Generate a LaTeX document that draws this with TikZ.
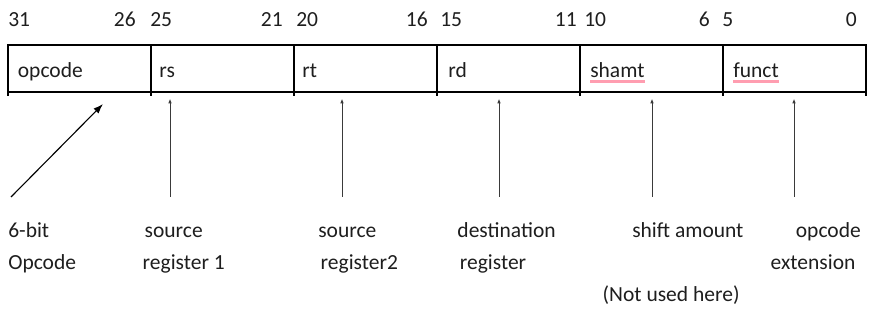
\documentclass[tikz,border=0pt]{standalone}
\usepackage{fontspec}
\setmainfont{Carlito}
\usepackage{xcolor}
\definecolor{fieldText}{HTML}{1E1E1E}
\definecolor{arrowGray}{HTML}{3A3A3A}
\definecolor{spellPink}{HTML}{FF9DB0}
\usetikzlibrary{arrows.meta}

\begin{document}
\begin{tikzpicture}[
  every node/.style={inner sep=0pt, text=fieldText, font=\fontsize{15.3}{18}\selectfont},
  cellLine/.style={draw=black, line width=0.95pt},
  bitWest/.style={anchor=base west},
  bitEast/.style={anchor=base east},
  spellMark/.style={draw=spellPink, line width=1.9pt},
  ptrArrow/.style={draw=arrowGray, line width=0.7pt, -{Latex[length=3.5pt,width=2.6pt]}},
  bigArrow/.style={draw=black, line width=0.8pt, -{Latex[length=7pt,width=5pt]}}
]
  \useasboundingbox (0cm,0cm) rectangle (22.35cm,-8.15cm);
  % bit positions
  \node[bitWest] (b31) at (0.2cm,-0.6625cm) {31};
  \node[bitEast] (b26) at (3.4cm,-0.6625cm) {26};
  \node[bitWest] (b25) at (3.75cm,-0.6625cm) {25};
  \node[bitEast] (b21) at (7.075cm,-0.6625cm) {21};
  \node[bitWest] (b20) at (7.4cm,-0.6625cm) {20};
  \node[bitEast] (b16) at (10.7cm,-0.6625cm) {16};
  \node[bitWest] (b15) at (11.0cm,-0.6625cm) {15};
  \node[bitEast] (b11) at (14.425cm,-0.6625cm) {11};
  \node[bitWest] (b10) at (14.6cm,-0.6625cm) {10};
  \node[bitEast] (b6) at (17.75cm,-0.6625cm) {6};
  \node[bitWest] (b5) at (18.05cm,-0.6625cm) {5};
  \node[bitEast] (b0) at (21.425cm,-0.6625cm) {0};
  % instruction word
  \draw[cellLine] (0.2cm,-1.125cm) rectangle (21.65cm,-2.3cm);
  \draw[cellLine] (0.2cm,-2.3cm) -- (0.2cm,-2.4cm);
  \draw[cellLine] (3.775cm,-1.125cm) -- (3.775cm,-2.4cm);
  \draw[cellLine] (7.35cm,-1.125cm) -- (7.35cm,-2.4cm);
  \draw[cellLine] (10.925cm,-1.125cm) -- (10.925cm,-2.4cm);
  \draw[cellLine] (14.5cm,-1.125cm) -- (14.5cm,-2.4cm);
  \draw[cellLine] (18.075cm,-1.125cm) -- (18.075cm,-2.4cm);
  \draw[cellLine] (21.65cm,-2.3cm) -- (21.65cm,-2.4cm);
  \node[bitWest] (fOpcode) at (0.44cm,-1.94cm) {opcode};
  \node[bitWest] (fRs) at (3.98cm,-1.94cm) {rs};
  \node[bitWest] (fRt) at (7.55cm,-1.94cm) {rt};
  \node[bitWest] (fRd) at (11.2cm,-1.94cm) {rd};
  \node[bitWest] (fShamt) at (14.75cm,-1.94cm) {shamt};
  \node[bitWest] (fFunct) at (18.325cm,-1.94cm) {funct};
  \draw[spellMark] (14.75cm,-2.04cm) -- (16.125cm,-2.04cm);
  \draw[spellMark] (18.325cm,-2.04cm) -- (19.475cm,-2.04cm);
  % pointers
  \coordinate (opTail) at (0.275cm,-4.925cm);
  \coordinate (opHead) at (2.575cm,-2.6cm);
  \coordinate (rsTail) at (4.25cm,-4.925cm);
  \coordinate (rsHead) at (4.25cm,-2.4625cm);
  \coordinate (rtTail) at (8.55cm,-4.925cm);
  \coordinate (rtHead) at (8.55cm,-2.4625cm);
  \coordinate (rdTail) at (12.475cm,-4.925cm);
  \coordinate (rdHead) at (12.475cm,-2.4625cm);
  \coordinate (shTail) at (16.3cm,-4.925cm);
  \coordinate (shHead) at (16.3cm,-2.4625cm);
  \coordinate (fnTail) at (19.85cm,-4.925cm);
  \coordinate (fnHead) at (19.85cm,-2.4625cm);
  \draw[bigArrow] (opTail) -- (opHead);
  \draw[ptrArrow] (rsTail) -- (rsHead);
  \draw[ptrArrow] (rtTail) -- (rtHead);
  \draw[ptrArrow] (rdTail) -- (rdHead);
  \draw[ptrArrow] (shTail) -- (shHead);
  \draw[ptrArrow] (fnTail) -- (fnHead);
  % descriptions
  \node[bitWest] (dOpA) at (0.2cm,-5.95cm) {6-bit};
  \node[bitWest] (dOpB) at (0.2cm,-6.725cm) {Opcode};
  \node[bitWest] (dRsA) at (3.61cm,-5.95cm) {source};
  \node[bitWest] (dRsB) at (3.56cm,-6.725cm) {register 1};
  \node[bitWest] (dRtA) at (7.95cm,-5.95cm) {source};
  \node[bitWest] (dRtB) at (8.01cm,-6.725cm) {register2};
  \node[bitWest] (dRdA) at (11.43cm,-5.95cm) {destination};
  \node[bitWest] (dRdB) at (11.49cm,-6.725cm) {register};
  \node[bitWest] (dShA) at (15.8cm,-5.95cm) {shift amount};
  \node[bitWest] (dShC) at (15.06cm,-7.525cm) {(Not used here)};
  \node[bitWest] (dFnA) at (19.89cm,-5.95cm) {opcode};
  \node[bitWest] (dFnB) at (19.26cm,-6.725cm) {extension};
\end{tikzpicture}
\end{document}
